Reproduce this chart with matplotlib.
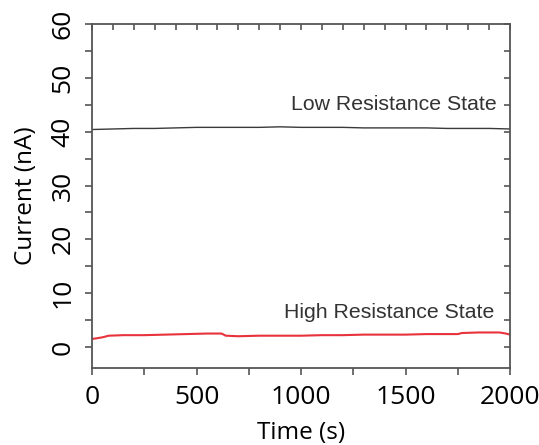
import matplotlib
matplotlib.use("Agg")
import matplotlib.pyplot as plt
from matplotlib.ticker import MultipleLocator

# Data
lrs_time = [0, 100, 200, 300, 400, 500, 600, 700, 800, 900, 1000, 1100, 1200,
            1300, 1400, 1500, 1600, 1700, 1800, 1900, 2000]
lrs_current = [40.4, 40.5, 40.6, 40.6, 40.7, 40.8, 40.8, 40.8, 40.8, 40.9, 40.8,
               40.8, 40.8, 40.7, 40.7, 40.7, 40.7, 40.6, 40.6, 40.6, 40.5]

hrs_time = [0, 20, 50, 80, 150, 250, 350, 450, 550, 620, 640, 700, 800, 900,
            1000, 1100, 1200, 1300, 1400, 1500, 1600, 1700, 1750, 1770, 1850,
            1950, 1980, 2000]
hrs_current = [1.5, 1.6, 1.8, 2.1, 2.2, 2.2, 2.3, 2.4, 2.5, 2.5, 2.1, 2.0, 2.1,
               2.1, 2.1, 2.2, 2.2, 2.3, 2.3, 2.3, 2.4, 2.4, 2.4, 2.6, 2.7,
               2.7, 2.5, 2.3]

xticks = [0, 500, 1000, 1500, 2000]
yticks = [0, 10, 20, 30, 40, 50, 60]

fig = plt.figure(figsize=(5.39, 4.45), dpi=100)
ax = fig.add_axes([92/539, 1 - 368/445, (510-92)/539, (368-24)/445])

ax.plot(lrs_time, lrs_current, color="#3a3a3a", lw=1.0)
ax.plot(hrs_time, hrs_current, color="#e8323c", lw=1.5)

ax.set_xlim(0, 2000)
ax.set_ylim(-3.9, 60)
ax.set_xticks(xticks)
ax.set_yticks(yticks)
ax.xaxis.set_minor_locator(MultipleLocator(250))
ax.yaxis.set_minor_locator(MultipleLocator(5))

tick_font = "Open Sans"
for lab in ax.get_xticklabels() + ax.get_yticklabels():
    lab.set_fontfamily(tick_font)
    lab.set_fontsize(19)
for lab in ax.get_yticklabels():
    lab.set_rotation(90)
    lab.set_va("center")

ax.tick_params(axis="both", which="both", direction="out", length=5, width=1.2,
               color="#555555", top=False, right=False)
ax.tick_params(axis="x", which="major", pad=7)
ax.tick_params(axis="y", which="major", pad=7)

# top ticks inward every 100, right ticks inward every 5
sec_x = ax.secondary_xaxis("top")
sec_x.set_xticks(range(0, 2001, 100))
sec_x.tick_params(direction="in", length=4, width=1.2, color="#555555", labeltop=False)
sec_x.spines["top"].set_visible(False)
sec_y = ax.secondary_yaxis("right")
sec_y.set_yticks(range(0, 61, 5))
sec_y.tick_params(direction="in", length=4, width=1.2, color="#555555", labelright=False)
sec_y.spines["right"].set_visible(False)

for s in ax.spines.values():
    s.set_color("#555555")
    s.set_linewidth(1.3)

ax.set_xlabel("Time (s)", fontfamily=tick_font, fontsize=17.5, labelpad=8)
ax.set_ylabel("Current (nA)", fontfamily=tick_font, fontsize=17.5, labelpad=9)

ax.text(1935, 45.0, "Low Resistance State", ha="right", va="center",
        fontfamily="Liberation Sans", fontsize=15.3, color="#333333")
ax.text(1925, 6.5, "High Resistance State", ha="right", va="center",
        fontfamily="Liberation Sans", fontsize=15.3, color="#333333")

fig.savefig("out.png", dpi=100)
